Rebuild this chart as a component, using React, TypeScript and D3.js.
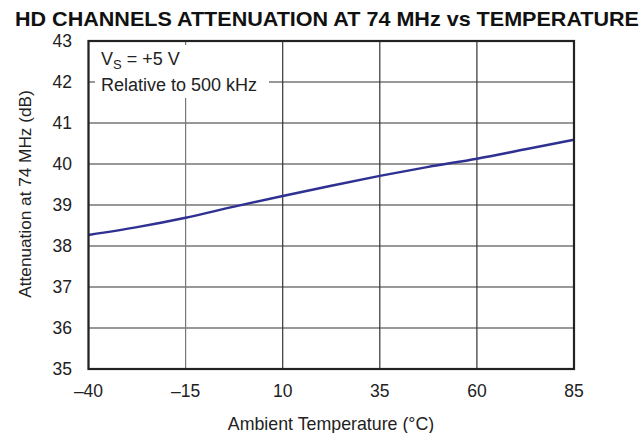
import React from "react";
import * as d3 from "d3";

const temps = [-40, -27.5, -15, -2.5, 10, 22.5, 35, 47.5, 60, 72.5, 85];
const atten = [38.27, 38.46, 38.69, 38.96, 39.22, 39.47, 39.71, 39.93, 40.13, 40.36, 40.59];
const xTicks = [-40, -15, 10, 35, 60, 85];
const yTicks = [35, 36, 37, 38, 39, 40, 41, 42, 43];

const W = 641, H = 433;
const M = { left: 88.5, right: 574, top: 41, bottom: 369 };
const FONT = "'Liberation Sans', Arial, Helvetica, sans-serif";

export default function App() {
  const x = d3.scaleLinear().domain([-40, 85]).range([M.left, M.right]);
  const y = d3.scaleLinear().domain([35, 43]).range([M.bottom, M.top]);
  const line = d3
    .line<number>()
    .x((_, i) => x(temps[i]))
    .y((d) => y(d))
    .curve(d3.curveMonotoneX);
  const fmt = (v: number) => (v < 0 ? "\u2013" + Math.abs(v) : String(v));
  return (
    <svg width={W} height={H} style={{ position: "absolute", left: 0, top: 0, background: "#fff" }} fontFamily={FONT}>
      <rect x={0} y={0} width={W} height={H} fill="#fff" />
      <text x={15} y={26} fontSize={21} fontWeight="bold" fill="#111" textLength={624} lengthAdjust="spacingAndGlyphs">
        HD CHANNELS ATTENUATION AT 74 MHz vs TEMPERATURE
      </text>
      {yTicks.map((t) => (
        <g key={"y" + t}>
          <line x1={M.left} x2={M.right} y1={y(t)} y2={y(t)} stroke="#333" strokeWidth={1.2} />
          <text x={72} y={y(t) + 6} fontSize={17.5} textAnchor="end" fill="#222">
            {t}
          </text>
        </g>
      ))}
      {xTicks.map((t, i) => (
        <g key={"x" + t}>
          <line x1={x(t)} x2={x(t)} y1={M.top} y2={M.bottom} stroke={i === 1 ? "#777" : "#333"} strokeWidth={1.2} />
          <text x={x(t)} y={397} fontSize={17.5} textAnchor="middle" fill="#222">
            {fmt(t)}
          </text>
        </g>
      ))}
      <rect x={95} y={45} width={174} height={53} fill="#fff" />
      <text x={101} y={65} fontSize={18} fill="#222">
        V<tspan fontSize={13} dy={4}>S</tspan>
        <tspan dy={-4}> = +5 V</tspan>
      </text>
      <text x={101} y={91} fontSize={18} fill="#222">
        Relative to 500 kHz
      </text>
      <path d={line(atten) || ""} fill="none" stroke="#2e3192" strokeWidth={2.5} />
      <rect
        x={M.left}
        y={M.top}
        width={M.right - M.left}
        height={M.bottom - M.top}
        fill="none"
        stroke="#222"
        strokeWidth={2.2}
      />
      <text x={331} y={430} fontSize={17.8} textAnchor="middle" fill="#222">
        Ambient Temperature (°C)
      </text>
      <text
        transform={`translate(31, 194) rotate(-90)`}
        fontSize={17.2}
        textAnchor="middle"
        fill="#222"
      >
        Attenuation at 74 MHz (dB)
      </text>
    </svg>
  );
}
